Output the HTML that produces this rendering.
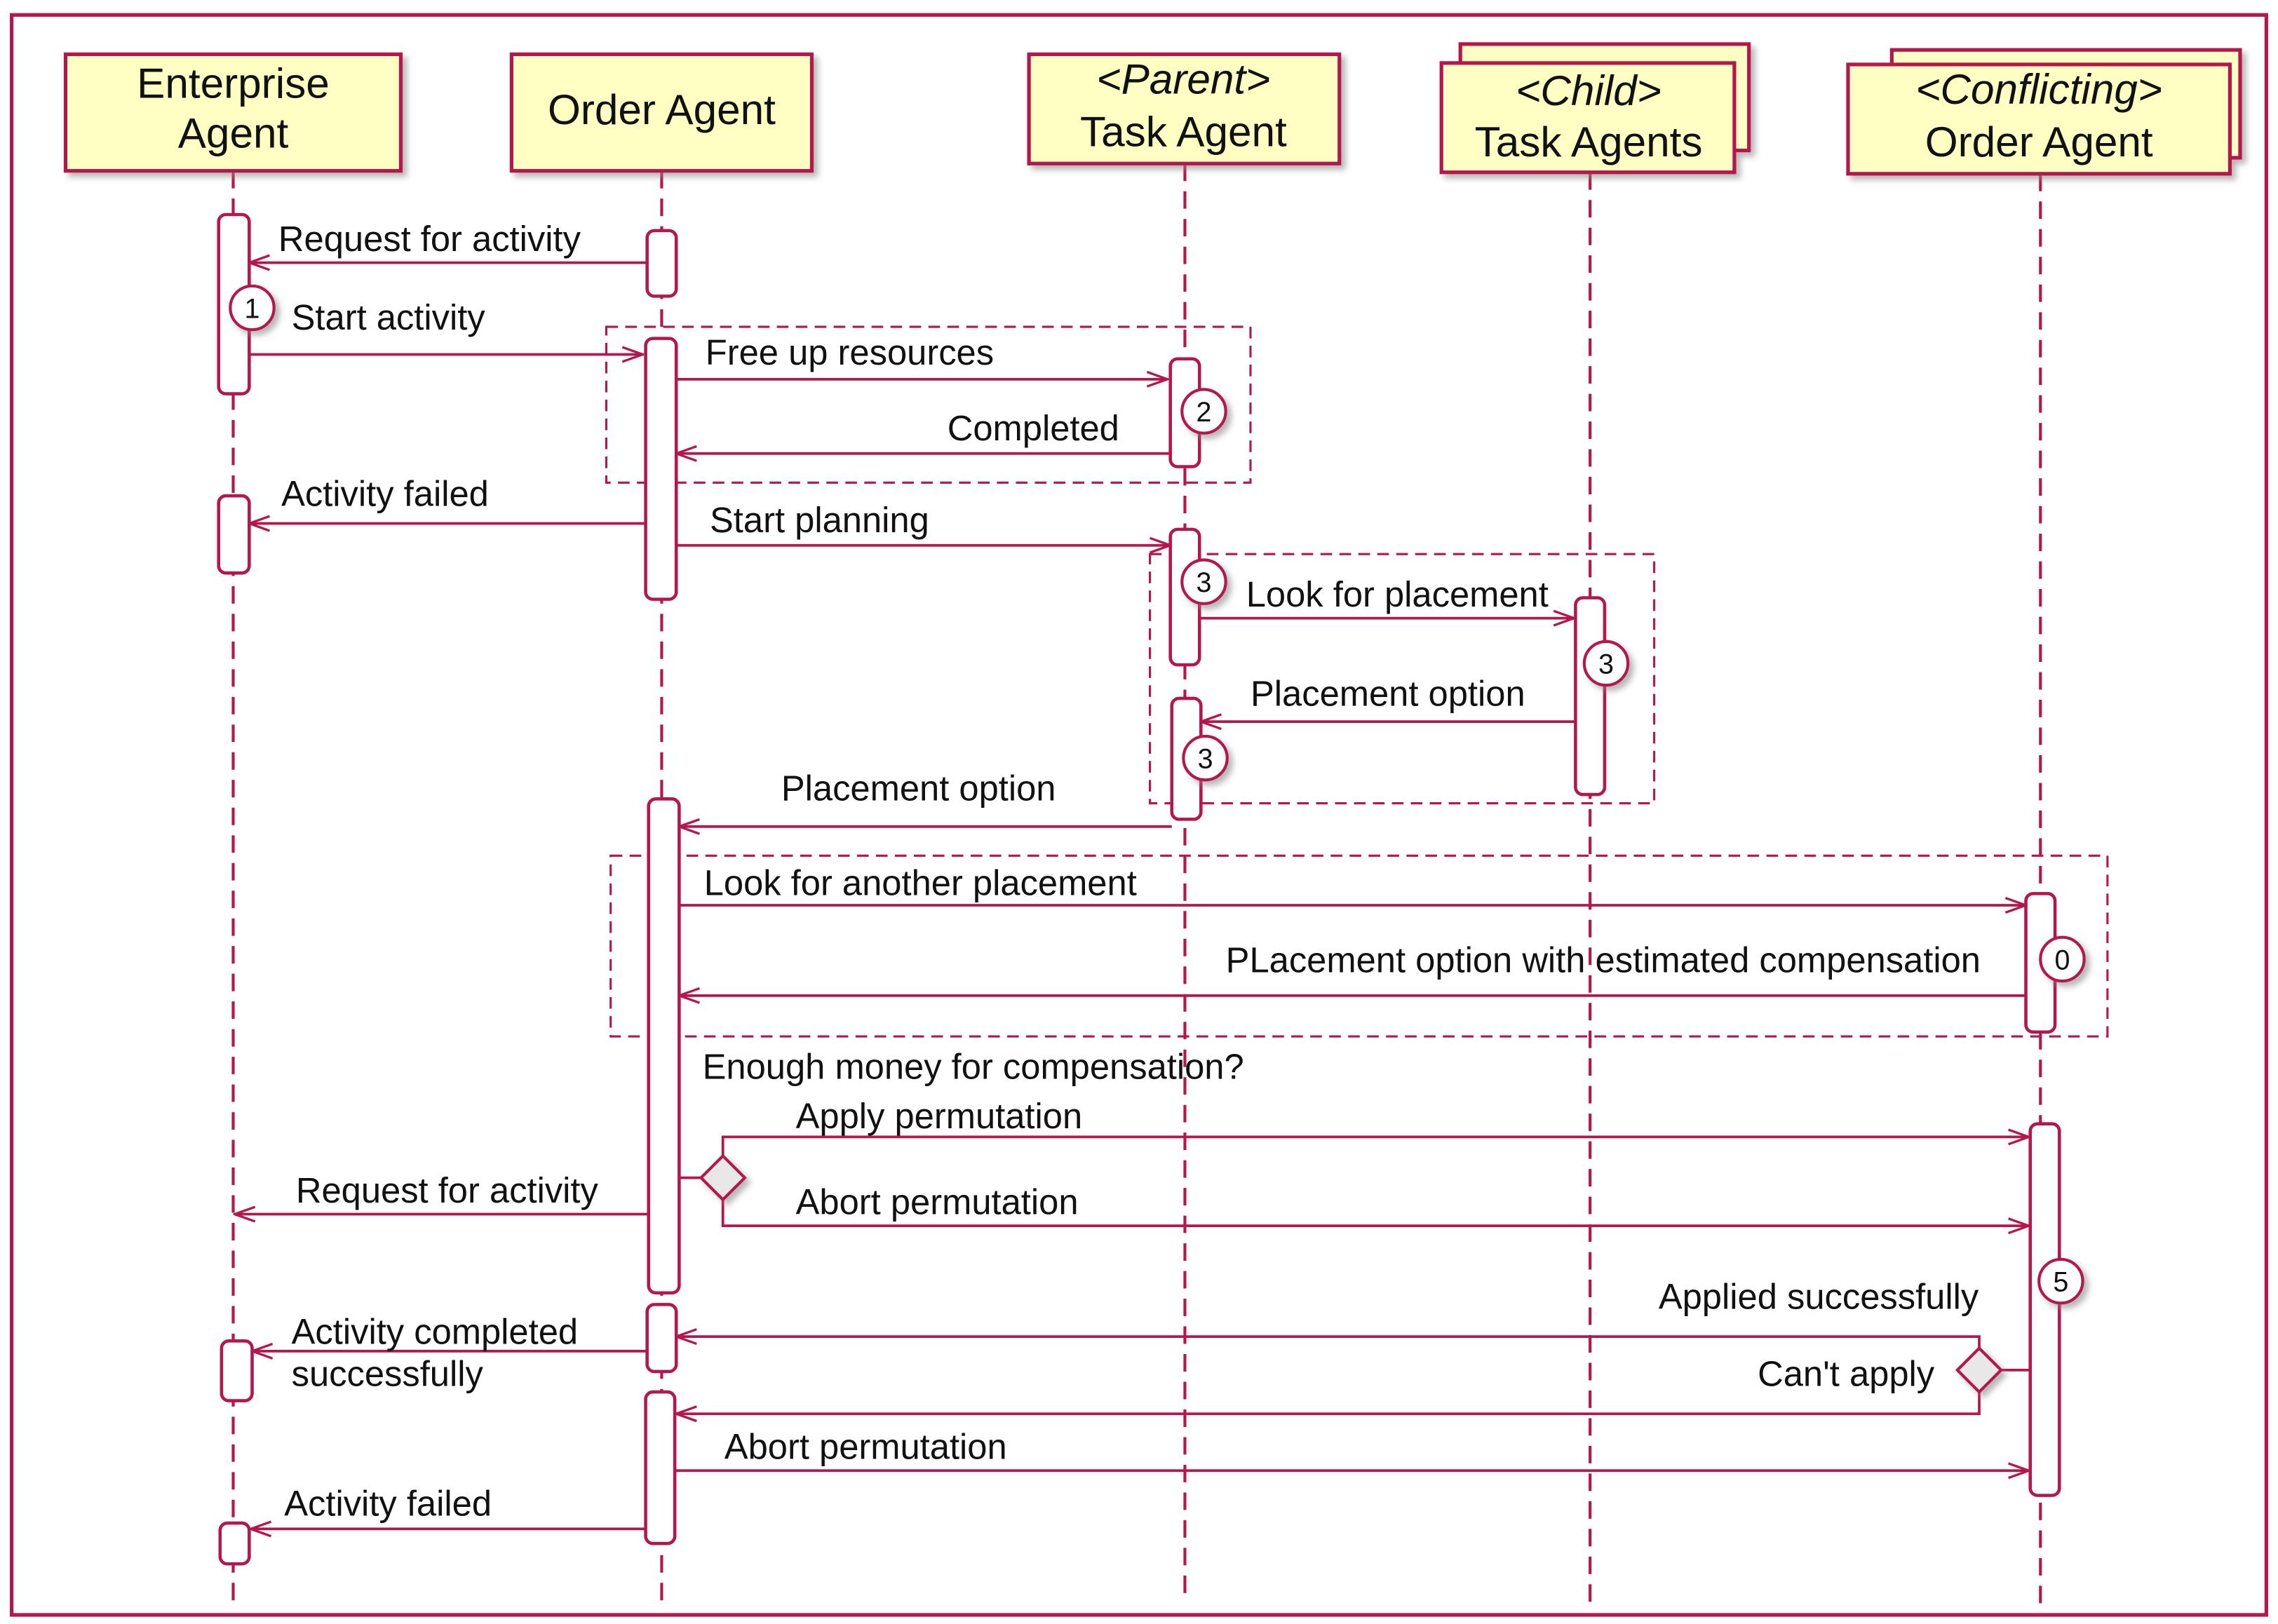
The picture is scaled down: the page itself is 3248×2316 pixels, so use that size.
<!DOCTYPE html>
<html><head><meta charset="utf-8"><style>
html,body{margin:0;padding:0;background:#fff;}
svg{display:block;}
text{font-family:"Liberation Sans","DejaVu Sans",sans-serif;fill:#111;}
</style></head><body>
<svg width="3248" height="2316" viewBox="0 0 1563 1114" xmlns="http://www.w3.org/2000/svg">
<defs>
<filter id="sh" x="-20%" y="-20%" width="150%" height="150%"><feDropShadow dx="3" dy="3" stdDeviation="2" flood-color="#888" flood-opacity="0.6"/></filter>
<marker id="ar" markerWidth="16" markerHeight="12" refX="15" refY="6" orient="auto" markerUnits="userSpaceOnUse"><path d="M1,1 L15,6 L1,11" fill="none" stroke="#b5164b" stroke-width="1.6"/></marker>
</defs>
<rect x="8" y="10" width="1547" height="1098" fill="#fff" stroke="#b5164b" stroke-width="2.5"/>
<g stroke="#b5164b" stroke-width="2" stroke-dasharray="12,7" fill="none">
<line x1="160" y1="117" x2="160" y2="1100"/>
<line x1="454" y1="117" x2="454" y2="1100"/>
<line x1="813" y1="112" x2="813" y2="1100"/>
<line x1="1091" y1="118" x2="1091" y2="1100"/>
<line x1="1400" y1="119" x2="1400" y2="1100"/>
</g>
<g stroke="#b5164b" stroke-width="1.5" stroke-dasharray="8,5" fill="none">
<rect x="416" y="224" width="442" height="107"/>
<rect x="789" y="380" width="346" height="171"/>
<rect x="419" y="587" width="1027" height="124"/>
</g>
<g fill="#ffffc4" stroke="#b5164b" stroke-width="2.5" filter="url(#sh)">
<rect x="45" y="37" width="230" height="80"/>
<rect x="351" y="37" width="206" height="80"/>
<rect x="706" y="37" width="213" height="75"/>
<rect x="1002" y="30" width="198" height="73"/>
<rect x="989" y="43" width="201" height="75"/>
<rect x="1298" y="34" width="239" height="74"/>
<rect x="1268" y="44" width="262" height="75"/>
</g>
<g font-size="29" text-anchor="middle">
<text x="160" y="67">Enterprise</text><text x="160" y="101">Agent</text>
<text x="454" y="85">Order Agent</text>
<text x="812" y="64" font-style="italic">&lt;Parent&gt;</text><text x="812" y="100">Task Agent</text>
<text x="1090" y="72" font-style="italic">&lt;Child&gt;</text><text x="1090" y="107">Task Agents</text>
<text x="1399" y="71" font-style="italic">&lt;Conflicting&gt;</text><text x="1399" y="107">Order Agent</text>
</g>
<g fill="#fff" stroke="#b5164b" stroke-width="2.2">
<rect x="150" y="147" width="21" height="123" rx="5"/>
<rect x="150" y="340" width="21" height="53" rx="5"/>
<rect x="152" y="920" width="21" height="41" rx="5"/>
<rect x="151" y="1045" width="20" height="28" rx="5"/>
<rect x="444" y="158" width="20" height="45" rx="5"/>
<rect x="443" y="232" width="21" height="179" rx="5"/>
<rect x="445" y="548" width="21" height="339" rx="5"/>
<rect x="444" y="895" width="20" height="46" rx="5"/>
<rect x="443" y="955" width="20" height="104" rx="5"/>
<rect x="803" y="246" width="20" height="74" rx="5"/>
<rect x="803" y="363" width="20" height="93" rx="5"/>
<rect x="804" y="479" width="20" height="83" rx="5"/>
<rect x="1081" y="410" width="20" height="135" rx="5"/>
<rect x="1390" y="613" width="20" height="95" rx="5"/>
<rect x="1393" y="771" width="20" height="255" rx="5"/>
</g>
<g stroke="#b5164b" stroke-width="1.8" fill="none" marker-end="url(#ar)">
<line x1="444" y1="180" x2="171" y2="180"/>
<line x1="171" y1="243" x2="441" y2="243"/>
<line x1="464" y1="260" x2="801" y2="260"/>
<line x1="803" y1="311" x2="464" y2="311"/>
<line x1="443" y1="359" x2="171" y2="359"/>
<line x1="464" y1="374" x2="803" y2="374"/>
<line x1="823" y1="424" x2="1080" y2="424"/>
<line x1="1081" y1="495" x2="824" y2="495"/>
<line x1="804" y1="567" x2="466" y2="567"/>
<line x1="466" y1="621" x2="1390" y2="621"/>
<line x1="1390" y1="683" x2="466" y2="683"/>
<polyline points="496,793 496,780 1392,780"/>
<polyline points="496,823 496,841 1392,841"/>
<line x1="445" y1="833" x2="161" y2="833"/>
<polyline points="1358,925 1358,917 464,917"/>
<polyline points="1358,955 1358,970 464,970"/>
<line x1="444" y1="927" x2="173" y2="927"/>
<line x1="463" y1="1009" x2="1392" y2="1009"/>
<line x1="443" y1="1049" x2="172" y2="1049"/>
</g>
<g stroke="#b5164b" stroke-width="1.8">
<line x1="466" y1="808" x2="481" y2="808"/>
<line x1="1393" y1="940" x2="1373" y2="940"/>
</g>
<g fill="#e8e8e8" stroke="#b5164b" stroke-width="2" filter="url(#sh)">
<polygon points="496,793 511,808 496,823 481,808"/>
<polygon points="1358,925 1373,940 1358,955 1343,940"/>
</g>
<g fill="#fff" stroke="#b5164b" stroke-width="2" filter="url(#sh)">
<circle cx="173" cy="211" r="15"/><circle cx="826" cy="282" r="15"/>
<circle cx="826" cy="399" r="15"/><circle cx="1102" cy="455" r="15"/>
<circle cx="827" cy="520" r="15"/><circle cx="1415" cy="658" r="15"/>
<circle cx="1414" cy="879" r="15"/>
</g>
<g font-size="19" text-anchor="middle">
<text x="173" y="218">1</text><text x="826" y="289">2</text>
<text x="826" y="406">3</text><text x="1102" y="462">3</text>
<text x="827" y="527">3</text><text x="1415" y="665">0</text>
<text x="1414" y="886">5</text>
</g>
<g font-size="24.4">
<text x="191" y="172">Request for activity</text>
<text x="200" y="226">Start activity</text>
<text x="484" y="250">Free up resources</text>
<text x="650" y="302">Completed</text>
<text x="193" y="347">Activity failed</text>
<text x="487" y="365">Start planning</text>
<text x="855" y="416">Look for placement</text>
<text x="858" y="484">Placement option</text>
<text x="536" y="549">Placement option</text>
<text x="483" y="614">Look for another placement</text>
<text x="841" y="667">PLacement option with estimated compensation</text>
<text x="482" y="740">Enough money for compensation?</text>
<text x="546" y="774">Apply permutation</text>
<text x="203" y="825">Request for activity</text>
<text x="546" y="833">Abort permutation</text>
<text x="1138" y="898">Applied successfully</text>
<text x="200" y="922">Activity completed</text>
<text x="200" y="951">successfully</text>
<text x="1206" y="951">Can't apply</text>
<text x="497" y="1001">Abort permutation</text>
<text x="195" y="1040">Activity failed</text>
</g>
</svg>
</body></html>
